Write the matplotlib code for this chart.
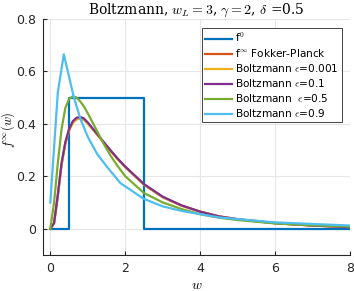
import numpy as np
import matplotlib
matplotlib.use("Agg")
import matplotlib.pyplot as plt

plt.rcParams['mathtext.fontset'] = 'cm'

# f0 : uniform on [0.5, 2.5]
w0 = [0, 0.5, 0.5, 2.5, 2.5, 8]
f0 = [0, 0, 0.5, 0.5, 0, 0]

# values
w_fp = [0, 0.1, 0.2, 0.3, 0.4, 0.5, 0.6, 0.7, 0.8, 0.9, 1.0, 1.2, 1.4, 1.6, 1.8,
        2.0, 2.5, 3.0, 3.5, 4.0, 4.5, 5.0, 6.0, 7.0, 8.0]
f_fp = [0, 0.02, 0.125, 0.245, 0.325, 0.375, 0.405, 0.418, 0.42, 0.415, 0.402,
        0.368, 0.333, 0.298, 0.265, 0.235, 0.168, 0.12, 0.088, 0.065, 0.047,
        0.036, 0.021, 0.012, 0.006]
f_e001 = [0, 0.02, 0.125, 0.245, 0.325, 0.375, 0.404, 0.417, 0.419, 0.414, 0.401,
          0.367, 0.333, 0.298, 0.265, 0.235, 0.168, 0.12, 0.088, 0.065, 0.047,
          0.036, 0.021, 0.012, 0.006]
f_e01 = [0, 0.022, 0.13, 0.25, 0.33, 0.38, 0.41, 0.423, 0.426, 0.42, 0.405,
         0.37, 0.335, 0.30, 0.267, 0.237, 0.17, 0.122, 0.089, 0.065, 0.047,
         0.036, 0.021, 0.012, 0.006]
f_e05 = [0, 0.1, 0.25, 0.38, 0.46, 0.495, 0.505, 0.5, 0.485, 0.465, 0.44,
         0.385, 0.33, 0.28, 0.238, 0.2, 0.136, 0.1, 0.075, 0.055, 0.042,
         0.033, 0.02, 0.013, 0.008]
w_e09 = [0, 0.2, 0.36, 0.5, 0.62, 0.8, 1.0, 1.25, 1.5, 1.87, 2.49, 3.0, 3.5,
         4.5, 6.0, 8.0]
f_e09 = [0.1, 0.52, 0.665, 0.58, 0.505, 0.42, 0.35, 0.285, 0.238, 0.174, 0.114,
         0.085, 0.068, 0.043, 0.024, 0.012]

fig = plt.figure(figsize=(3.54, 2.91), dpi=100)
ax = fig.add_axes([0.121, 0.124, 0.868, 0.811])

lw = 1.6
ax.plot(w0, f0, color='#0072BD', lw=lw, label=r'f$^0$')
ax.plot(w_fp, f_fp, color='#D95319', lw=lw, label=r'f$^\infty$ Fokker-Planck')
ax.plot(w_fp, f_e001, color='#EDB120', lw=lw, label=r'Boltzmann $\epsilon$=0.001')
ax.plot(w_fp, f_e01, color='#7E2F8E', lw=lw, label=r'Boltzmann $\epsilon$=0.1')
ax.plot(w_fp, f_e05, color='#77AC30', lw=lw, label=r'Boltzmann  $\epsilon$=0.5')
ax.plot(w_e09, f_e09, color='#4DBEEE', lw=lw, label=r'Boltzmann $\epsilon$=0.9')

ax.set_xlim(-0.2, 8)
ax.set_ylim(-0.1, 0.8)
ax.set_xticks([0, 2, 4, 6, 8])
ax.set_yticks([0, 0.2, 0.4, 0.6, 0.8])
ax.set_yticklabels(['0', '0.2', '0.4', '0.6', '0.8'])
ax.grid(True, color='#e6e6e6', lw=0.8)
ax.set_axisbelow(True)
for s in ['top', 'right']:
    ax.spines[s].set_visible(False)
for s in ['left', 'bottom']:
    ax.spines[s].set_color('#262626')
    ax.spines[s].set_linewidth(0.8)
ax.tick_params(direction='in', length=3, labelsize=9, colors='#262626', pad=5)

ax.set_title(r'Boltzmann, $w_L = 3$, $\gamma = 2$, $\delta$ =0.5',
             fontsize=10, family='serif', pad=3)
ax.set_xlabel(r'$w$', fontsize=10, labelpad=2)
ax.set_ylabel(r'$f^\infty(w)$', fontsize=9)
ax.yaxis.set_label_coords(-0.083, 0.53)

leg = ax.legend(loc='upper right', bbox_to_anchor=(0.973, 0.963), fontsize=7.6,
                fancybox=False, framealpha=1, edgecolor='#262626',
                handlelength=2.5, handletextpad=0.3, labelspacing=0.28,
                borderpad=0.3, borderaxespad=0)
leg.get_frame().set_linewidth(0.6)

fig.savefig('out.png', dpi=100)
